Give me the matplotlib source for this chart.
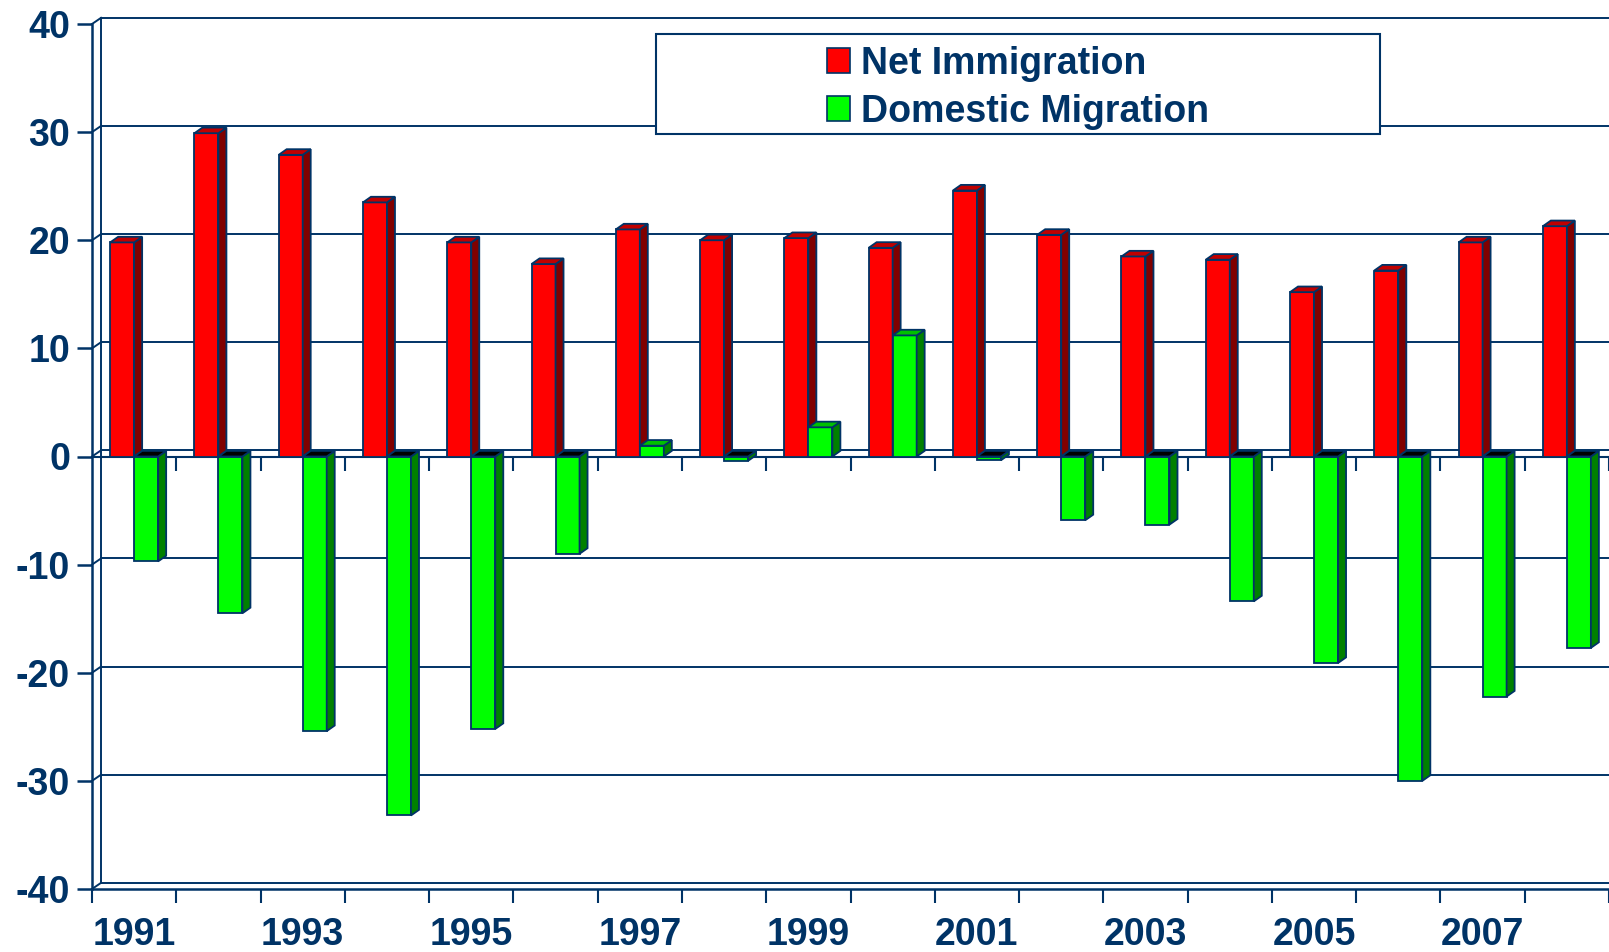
import numpy as np
import matplotlib
matplotlib.use("Agg")
import matplotlib.pyplot as plt
from matplotlib.patches import Rectangle, Patch

years = list(range(1991, 2009))
net_immigration = [19.8, 29.9, 27.9, 23.5, 19.8, 17.8, 21.0, 20.0, 20.2,
                   19.3, 24.6, 20.5, 18.5, 18.2, 15.2, 17.2, 19.8, 21.3]
domestic_migration = [-9.7, -14.5, -25.4, -33.2, -25.2, -9.0, 1.0, -0.4, 2.7,
                      11.2, -0.35, -5.9, -6.3, -13.4, -19.1, -30.0, -22.2, -17.7]
series_names = ["Net Immigration", "Domestic Migration"]
year_labels = [str(y) for y in years[::2]]

navy = "#003366"
plt.rcParams["font.family"] = ["Liberation Sans", "DejaVu Sans"]
plt.rcParams["font.weight"] = "bold"
plt.rcParams["axes.unicode_minus"] = False

fig = plt.figure(figsize=(16.09, 9.52), dpi=100)
ax = fig.add_axes([92 / 1609, 63 / 952, 1517 / 1609, 865 / 952])
ax.set_xlim(-0.5, 17.5)
ax.set_ylim(-40, 40)

# 3d depth offsets (data units)
wdx, wdy = 0.107, 0.57   # back wall
bdx, bdy = 0.095, 0.52   # bar depth
w = 0.285
lw = 1.3

# back wall
for v in range(-40, 41, 10):
    ax.plot([-0.5 + wdx, 18.5], [v + wdy, v + wdy], color=navy, lw=1.4,
            zorder=1, clip_on=False)
    ax.plot([-0.5, -0.5 + wdx], [v, v + wdy], color=navy, lw=1.4,
            zorder=1, clip_on=False)
ax.plot([-0.5 + wdx] * 2, [-40 + wdy, 40 + wdy], color=navy, lw=1.4,
        zorder=1, clip_on=False)

# zero axis with its ticks
x = np.arange(len(years))
ax.axhline(0, color=navy, lw=1.5, zorder=2)
ax.vlines(np.arange(0.5, 18, 1), 0, -1.3, color=navy, lw=1.5, zorder=2)


def bar3d(x0, h, face, side, top):
    ax.bar(x0, h, width=w, align="edge", color=face, edgecolor=navy,
           lw=lw, zorder=3)
    ax.fill([x0 + w, x0 + w + bdx, x0 + w + bdx, x0 + w],
            [0, bdy, h + bdy, h], facecolor=side, edgecolor=navy, lw=lw,
            zorder=3)
    lvl = max(h, 0)
    ax.fill([x0, x0 + bdx, x0 + w + bdx, x0 + w],
            [lvl, lvl + bdy, lvl + bdy, lvl],
            facecolor=top if h > 0 else "black", edgecolor=navy, lw=lw,
            zorder=3)


for i in x:
    bar3d(i - w, net_immigration[i], "#ff0000", "#800000", "#c00000")
    bar3d(i, domestic_migration[i], "#00ff00", "#008000", "#00c000")

# axes
for s in ["top", "right"]:
    ax.spines[s].set_visible(False)
for s in ["left", "bottom"]:
    ax.spines[s].set_color(navy)
    ax.spines[s].set_linewidth(1.8)

ax.set_yticks(range(-40, 41, 10))
ax.tick_params(axis="y", length=10.8, width=1.8, pad=5, labelsize=27,
               colors=navy)
ax.set_xticks(np.arange(-0.5, 18, 1))
ax.set_xticklabels([])
ax.tick_params(axis="x", which="major", length=10, width=1.5, colors=navy)
ax.set_xticks(x[::2], minor=True)
ax.set_xticklabels(year_labels, minor=True)
ax.tick_params(axis="x", which="minor", length=0, pad=20, labelsize=27,
               colors=navy)

# legend
box = Rectangle((656 / 1609, (952 - 134) / 952), 724 / 1609, 100 / 952,
                transform=fig.transFigure, facecolor="white", edgecolor=navy,
                lw=1.5, zorder=4.5, clip_on=False)
ax.add_patch(box)
handles = [Patch(facecolor="#ff0000", edgecolor=navy, lw=1.2),
           Patch(facecolor="#00ff00", edgecolor=navy, lw=1.2)]
leg = ax.legend(handles, series_names, loc="center",
                bbox_to_anchor=(1018 / 1609, (952 - 88) / 952),
                bbox_transform=fig.transFigure, frameon=False, fontsize=27,
                handlelength=0.6, handleheight=0.65, handletextpad=0.3,
                labelspacing=0.32, borderpad=0)
for t in leg.get_texts():
    t.set_color(navy)
leg.set_zorder(5)

fig.savefig("out.png", dpi=100)
